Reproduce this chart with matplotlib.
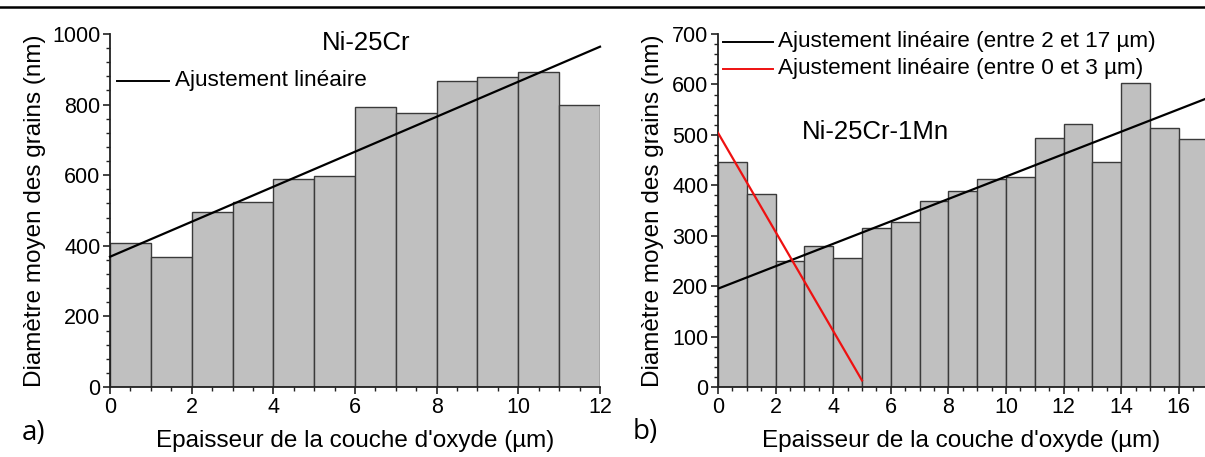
import matplotlib
matplotlib.use("Agg")
import matplotlib.pyplot as plt
from matplotlib.ticker import MultipleLocator
from matplotlib.lines import Line2D

plt.rcParams['font.family'] = ['Liberation Sans', 'DejaVu Sans']

# ---- data ----
a_edges = [0, 1, 2, 3, 4, 5, 6, 7, 8, 9, 10, 11]
a_values = [408, 368, 496, 523, 590, 598, 794, 777, 866, 879, 893, 799]
a_fit_x = [0, 12]
a_fit_y = [369, 964]

b_edges = [0, 1, 2, 3, 4, 5, 6, 7, 8, 9, 10, 11, 12, 13, 14, 15, 16]
b_values = [446, 382, 249, 279, 256, 315, 328, 368, 388, 412, 416, 493, 522, 447, 603, 513, 492]
b_fit_black_x = [0, 17]
b_fit_black_y = [195, 573]
b_fit_red_x = [0, 5]
b_fit_red_y = [504, 13]

title_a = "Ni-25Cr"
title_b = "Ni-25Cr-1Mn"
xlabel = "Epaisseur de la couche d'oxyde (µm)"
ylabel = "Diamètre moyen des grains (nm)"
leg_a = "Ajustement linéaire"
leg_b1 = "Ajustement linéaire (entre 2 et 17 µm)"
leg_b2 = "Ajustement linéaire (entre 0 et 3 µm)"

W, H = 1205, 457
fig = plt.figure(figsize=(W/100, H/100), dpi=100)

FS_TICK = 15.5
FS_LEG = 16.2
FS_LAB = 17.5
FS_TITLE = 18.5
FS_LETTER = 20
bar_fc = '#c0c0c0'
bar_ec = '#3a3a3a'

def style(ax):
    for s in ['top', 'right']:
        ax.spines[s].set_visible(False)
    for s in ['left', 'bottom']:
        ax.spines[s].set_linewidth(1.3)
        ax.spines[s].set_color('#222222')
    ax.tick_params(which='major', length=5, width=1.2, labelsize=FS_TICK, colors='#222222', pad=2)
    ax.tick_params(which='minor', length=3, width=1.0, colors='#222222')
    ax.tick_params(labelcolor='black')

# ---- panel a ----
ax1 = fig.add_axes([110/W, 1-387/H, (600-110)/W, (387-34)/H])
ax1.bar(a_edges, a_values, width=1.0, align='edge', color=bar_fc, edgecolor=bar_ec, linewidth=1.0, zorder=2)
ax1.plot(a_fit_x, a_fit_y, color='black', lw=1.6, zorder=3, clip_on=False)
ax1.set_xlim(0, 12)
ax1.set_ylim(0, 1000)
ax1.xaxis.set_major_locator(MultipleLocator(2))
ax1.xaxis.set_minor_locator(MultipleLocator(0.5))
ax1.yaxis.set_major_locator(MultipleLocator(200))
ax1.yaxis.set_minor_locator(MultipleLocator(40))
style(ax1)
ax1.set_xlabel(xlabel, fontsize=FS_LAB, labelpad=9)
ax1.set_ylabel(ylabel, fontsize=FS_LAB, labelpad=4)
ax1.text(6.28, 975, title_a, fontsize=FS_TITLE, ha='center', va='center')
ax1.plot([0.17, 1.45], [867, 867], color='black', lw=1.4, clip_on=False)
ax1.text(1.6, 867, leg_a, fontsize=FS_LEG, ha='left', va='center')

# ---- panel b ----
ax2 = fig.add_axes([718/W, 1-387/H, (W-718)/W, (387-34)/H])
ax2.bar(b_edges, b_values, width=1.0, align='edge', color=bar_fc, edgecolor=bar_ec, linewidth=1.0, zorder=2)
ax2.plot(b_fit_black_x, b_fit_black_y, color='black', lw=1.6, zorder=3)
ax2.plot(b_fit_red_x, b_fit_red_y, color='#ee1111', lw=1.6, zorder=3)
ax2.set_xlim(0, 16.91)
ax2.set_ylim(0, 700)
ax2.xaxis.set_major_locator(MultipleLocator(2))
ax2.xaxis.set_minor_locator(MultipleLocator(0.5))
ax2.yaxis.set_major_locator(MultipleLocator(100))
ax2.yaxis.set_minor_locator(MultipleLocator(20))
style(ax2)
ax2.set_xlabel(xlabel, fontsize=FS_LAB, labelpad=9)
ax2.set_ylabel(ylabel, fontsize=FS_LAB, labelpad=6)
ax2.text(5.45, 506, title_b, fontsize=FS_TITLE, ha='center', va='center')
ax2.plot([0.17, 1.9], [685, 685], color='black', lw=1.4, clip_on=False)
ax2.text(2.1, 685, leg_b1, fontsize=FS_LEG, ha='left', va='center')
ax2.plot([0.17, 1.9], [631, 631], color='#ee1111', lw=1.4, clip_on=False)
ax2.text(2.1, 631, leg_b2, fontsize=FS_LEG, ha='left', va='center')

# panel letters
fig.text(22/W, 1-433/H, "a)", fontsize=FS_LETTER, ha='left', va='center', family=['Open Sans', 'DejaVu Sans'])
fig.text(633/W, 1-432/H, "b)", fontsize=FS_LETTER, ha='left', va='center', family=['Open Sans', 'DejaVu Sans'])

# top rule line
fig.add_artist(Line2D([0, 1], [1-7/H, 1-7/H], transform=fig.transFigure, color='black', lw=1.8))

fig.savefig("out.png", dpi=100)
